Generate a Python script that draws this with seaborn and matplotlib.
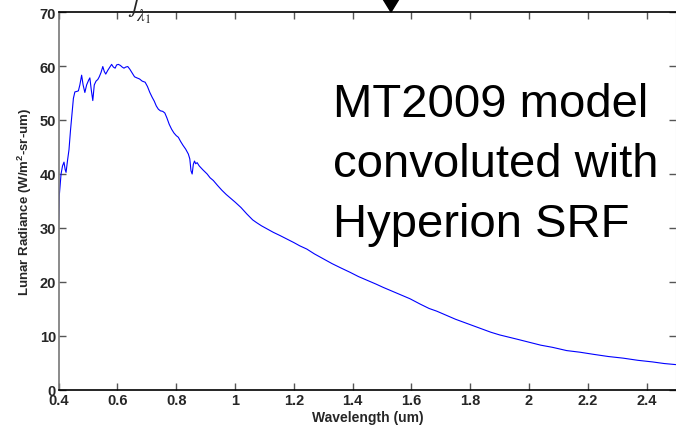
import matplotlib
matplotlib.use("Agg")
import matplotlib.pyplot as plt
from matplotlib.patches import Polygon
import seaborn as sns
import pandas as pd

# Lunar radiance spectrum (MT2009 model convolved with Hyperion SRF)
wavelength_um = [
    0.400, 0.402, 0.408, 0.413, 0.418, 0.422, 0.425, 0.430, 0.435, 0.440,
    0.445, 0.450, 0.455, 0.462, 0.467, 0.472, 0.478, 0.483, 0.489, 0.495,
    0.502, 0.506, 0.511, 0.516, 0.521, 0.527, 0.533, 0.538, 0.544, 0.550,
    0.555, 0.560, 0.567, 0.574, 0.580, 0.586, 0.592, 0.597, 0.603, 0.610,
    0.616, 0.622, 0.628, 0.635, 0.642, 0.650, 0.658, 0.666, 0.675, 0.684,
    0.694, 0.702, 0.710, 0.718, 0.725, 0.732, 0.739, 0.746, 0.754, 0.761,
    0.768, 0.776, 0.784, 0.792, 0.800, 0.807, 0.815, 0.823, 0.832, 0.841,
    0.846, 0.850, 0.854, 0.858, 0.862, 0.866, 0.871, 0.878, 0.890, 0.905,
    0.915, 0.926, 0.940, 0.955, 0.970, 0.985, 1.000, 1.020, 1.040, 1.060,
    1.073, 1.090, 1.110, 1.130, 1.153, 1.175, 1.200, 1.220, 1.244, 1.270,
    1.300, 1.330, 1.360, 1.391, 1.420, 1.450, 1.480, 1.504, 1.530, 1.560,
    1.595, 1.630, 1.660, 1.686, 1.720, 1.750, 1.780, 1.810, 1.840, 1.870,
    1.900, 1.930, 1.960, 2.003, 2.040, 2.080, 2.128, 2.173, 2.220, 2.270,
    2.320, 2.370, 2.420, 2.460, 2.500,
]
radiance = [
    31.5, 36.0, 40.0, 41.5, 42.2, 40.8, 40.3, 42.5, 44.5, 48.0,
    51.0, 54.0, 55.2, 55.3, 55.4, 56.5, 58.3, 56.5, 55.1, 56.5,
    57.4, 57.8, 55.5, 53.6, 56.5, 57.2, 57.5, 58.0, 58.8, 59.9,
    59.0, 58.5, 59.2, 59.8, 60.3, 59.8, 59.6, 60.2, 60.3, 60.1,
    59.8, 59.6, 59.8, 59.9, 59.4, 58.7, 58.0, 57.8, 57.6, 57.2,
    57.0, 56.2, 55.1, 54.2, 53.5, 52.6, 52.0, 51.7, 51.6, 51.3,
    50.4, 49.2, 48.3, 47.6, 47.1, 46.8, 46.0, 45.3, 44.6, 43.7,
    42.8, 40.6, 40.0, 41.8, 42.4, 41.9, 42.1, 41.5, 40.8, 40.0,
    39.3, 38.8, 37.9, 37.0, 36.2, 35.5, 34.8, 33.8, 32.6, 31.5,
    31.0, 30.4, 29.8, 29.2, 28.6, 28.0, 27.3, 26.7, 26.1, 25.2,
    24.3, 23.4, 22.6, 21.8, 21.0, 20.3, 19.6, 19.0, 18.4, 17.7,
    16.9, 15.9, 15.1, 14.6, 13.8, 13.1, 12.5, 11.9, 11.3, 10.7,
    10.2, 9.8, 9.4, 8.8, 8.3, 7.9, 7.3, 7.0, 6.6, 6.2,
    5.9, 5.5, 5.2, 4.9, 4.7,
]
x_ticks = [0.4, 0.6, 0.8, 1.0, 1.2, 1.4, 1.6, 1.8, 2.0, 2.2, 2.4]
x_tick_labels = ["0.4", "0.6", "0.8", "1", "1.2", "1.4", "1.6", "1.8", "2", "2.2", "2.4"]
y_ticks = [0, 10, 20, 30, 40, 50, 60, 70]

sns.set_style("ticks")
plt.rcParams["font.family"] = ["Liberation Sans", "DejaVu Sans"]
plt.rcParams["mathtext.fontset"] = "custom"
plt.rcParams["mathtext.bf"] = "Liberation Sans:bold"
plt.rcParams["mathtext.rm"] = "Liberation Sans"

W, H = 676, 427
fig = plt.figure(figsize=(W / 100, H / 100), dpi=100)
ax = fig.add_axes([58.7 / W, (H - 391) / H, 1 - 58.7 / W, (391 - 13) / H])

df = pd.DataFrame({"Wavelength": wavelength_um, "Radiance": radiance})
sns.lineplot(data=df, x="Wavelength", y="Radiance", ax=ax,
             color="#0000ff", linewidth=0.8, estimator=None, sort=False)

ax.set_xlim(0.4, 2.5)
ax.set_ylim(0, 70)
ax.set_xticks(x_ticks)
ax.set_xticklabels(x_tick_labels)
ax.set_yticks(y_ticks)
ax.tick_params(direction="in", length=5, width=1, color="#555555",
               top=True, right=True, labelsize=10.5, pad=2)
for lab in ax.get_xticklabels() + ax.get_yticklabels():
    lab.set_fontweight("bold")

ax.set_xlabel("Wavelength (um)", fontsize=10, fontweight="bold", labelpad=2)
ax.set_ylabel(r"Lunar Radiance (W/m$^{\mathbf{2}}$-sr-um)", fontsize=9.5,
              fontweight="bold", labelpad=4)

for side in ["top", "bottom"]:
    ax.spines[side].set_color("black")
    ax.spines[side].set_linewidth(1.2)
ax.spines["left"].set_color("#777777")
ax.spines["left"].set_linewidth(1.2)
ax.spines["right"].set_color("#cccccc")

fig.text(333 / W, 1 - 83 / H, "MT2009 model\nconvoluted with\nHyperion SRF",
         fontsize=34, color="black", ha="left", va="top", linespacing=1.47)

# fragments of an equation sitting above the axes
fig.text(127 / W, 1 - 9 / H, r"$\int_{\lambda_1}$", fontsize=18,
         math_fontfamily="stix", va="baseline", ha="left")
fig.text(232 / W, 1 + 1 / H, r"$\lambda$", fontsize=16,
         math_fontfamily="stix", va="bottom", ha="left")

# pointer arrowhead above the plot
tri = Polygon([(383 / W, 1.0), (399 / W, 1.0), (391 / W, 1 - 13 / H)],
              closed=True, transform=fig.transFigure, color="black",
              clip_on=False)
fig.patches.append(tri)

fig.savefig("out.png", dpi=100)
